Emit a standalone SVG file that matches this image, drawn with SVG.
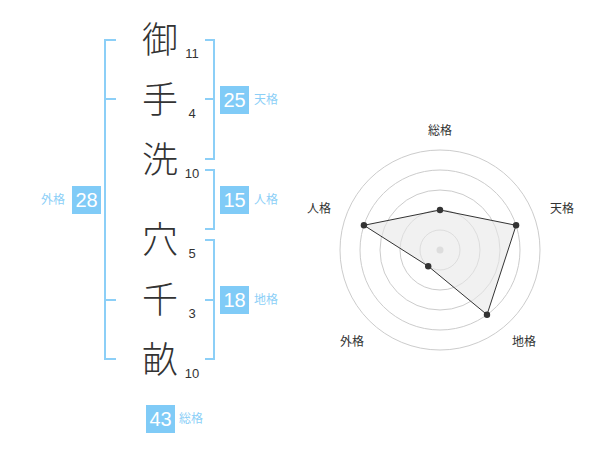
<svg xmlns="http://www.w3.org/2000/svg" width="600" height="470" viewBox="0 0 600 470">
<style>
.k{font-family:"Noto Sans CJK JP","Noto Sans CJK SC",sans-serif;font-size:36px;font-weight:300;fill:#333;text-anchor:middle}
.n{font-family:"Liberation Sans",Arial,sans-serif;font-size:13px;fill:#333;text-anchor:middle}
.br{fill:none;stroke:#8ccff7;stroke-width:2}
.box{fill:#80cbf7}
.bt{font-family:"Liberation Sans",Arial,sans-serif;font-size:20px;fill:#fff;text-anchor:middle}
.lb{font-family:"Noto Sans CJK JP","Noto Sans CJK SC",sans-serif;font-size:12px;fill:#8ccff7}
.rl{font-family:"Noto Sans CJK JP","Noto Sans CJK SC",sans-serif;font-size:12px;fill:#333;text-anchor:middle}
.ring{fill:none;stroke:#ccc;stroke-width:1}
.dot{fill:#333}
</style>
<rect width="600" height="470" fill="#fff"/>
<g id="chars">
<text class="k" x="160" y="53">御</text>
<text class="k" x="160" y="113">手</text>
<text class="k" x="160" y="173">洗</text>
<text class="k" x="160" y="253">穴</text>
<text class="k" x="160" y="313">千</text>
<text class="k" x="160" y="373">畝</text>
</g>
<g id="strokes">
<text class="n" x="192" y="58">11</text>
<text class="n" x="192" y="118">4</text>
<text class="n" x="192" y="178">10</text>
<text class="n" x="192" y="258">5</text>
<text class="n" x="192" y="318">3</text>
<text class="n" x="192" y="378">10</text>
</g>
<g id="connectors">
<path class="br" d="M116,40 H105 V359 H116 M105,99 H116 M105,300 H116"/>
<path class="br" d="M205,40 H214 V159 H205 M205,99 H214"/>
<path class="br" d="M205,170 H214 V229 H205"/>
<path class="br" d="M205,240 H214 V359 H205 M205,300 H214"/>
</g>
<g id="tenkaku">
<rect class="box" x="220" y="86" width="29" height="28"/>
<text class="bt" x="234.5" y="107">25</text>
<text class="lb" x="254" y="104">天格</text>
</g>
<g id="jinkaku">
<rect class="box" x="220" y="186" width="29" height="28"/>
<text class="bt" x="234.5" y="207">15</text>
<text class="lb" x="254" y="204">人格</text>
</g>
<g id="chikaku">
<rect class="box" x="220" y="286" width="29" height="28"/>
<text class="bt" x="234.5" y="307">18</text>
<text class="lb" x="254" y="304">地格</text>
</g>
<g id="gaikaku">
<rect class="box" x="72" y="186" width="29" height="28"/>
<text class="bt" x="86.5" y="207">28</text>
<text class="lb" x="65" y="204" text-anchor="end">外格</text>
</g>
<g id="soukaku">
<rect class="box" x="146" y="405" width="29" height="28"/>
<text class="bt" x="160.5" y="426">43</text>
<text class="lb" x="179" y="423">総格</text>
</g>
<g id="radar">
<circle class="ring" cx="440" cy="250" r="20"/>
<circle class="ring" cx="440" cy="250" r="40"/>
<circle class="ring" cx="440" cy="250" r="60"/>
<circle class="ring" cx="440" cy="250" r="80"/>
<circle class="ring" cx="440" cy="250" r="100"/>
<circle cx="440" cy="250" r="3.5" fill="#ccc"/>
<polygon points="440,210 516.1,225.3 487,314.7 428.2,266.2 363.9,225.3" fill="#e8e8e8" fill-opacity="0.6" stroke="#333" stroke-width="1"/>
<circle class="dot" cx="440" cy="210" r="3.2"/>
<circle class="dot" cx="516.1" cy="225.3" r="3.2"/>
<circle class="dot" cx="487" cy="314.7" r="3.2"/>
<circle class="dot" cx="428.2" cy="266.2" r="3.2"/>
<circle class="dot" cx="363.9" cy="225.3" r="3.2"/>
<text class="rl" x="440" y="135">総格</text>
<text class="rl" x="562" y="213">天格</text>
<text class="rl" x="319" y="213">人格</text>
<text class="rl" x="352" y="346">外格</text>
<text class="rl" x="524" y="346">地格</text>
</g>
</svg>
